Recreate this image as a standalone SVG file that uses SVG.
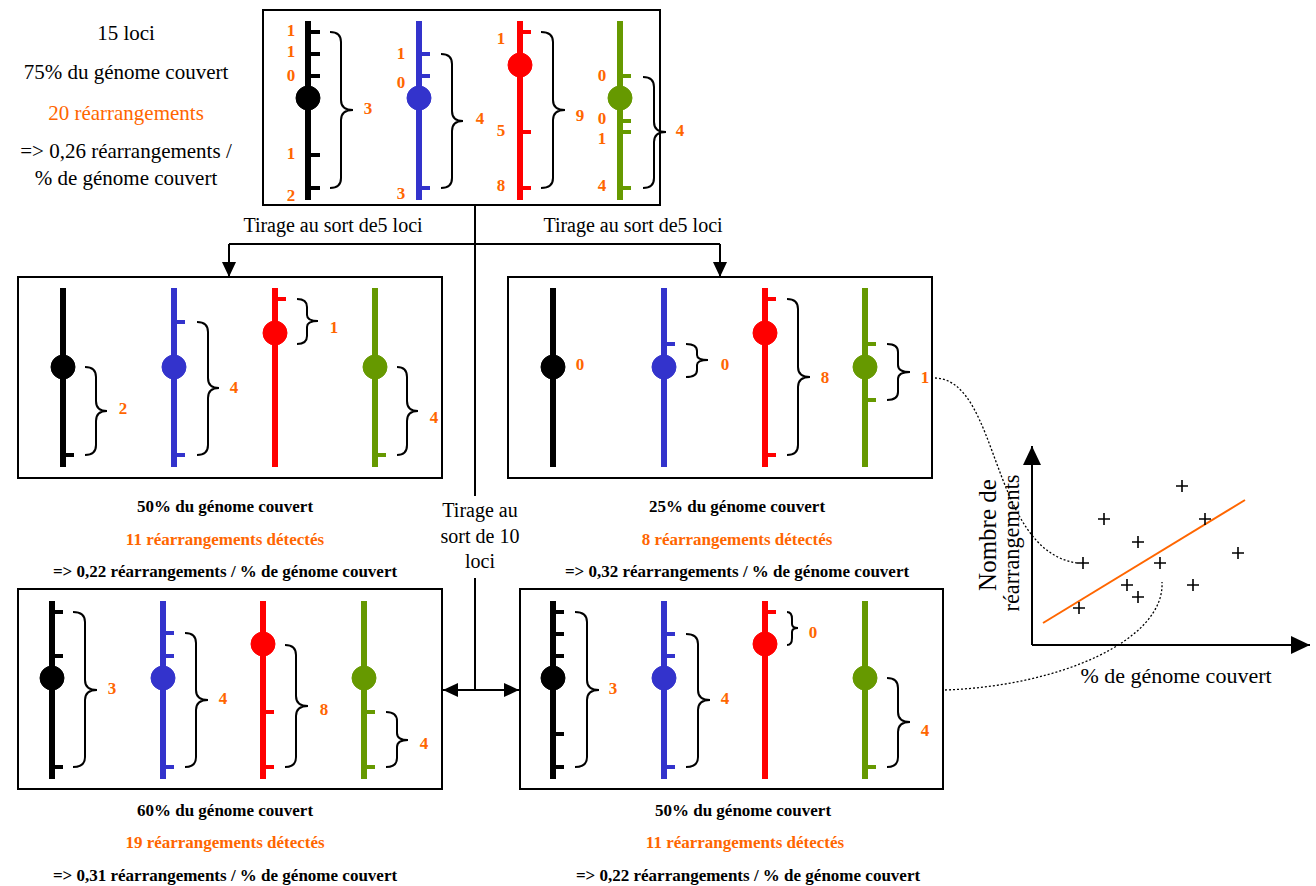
<svg xmlns="http://www.w3.org/2000/svg" width="1316" height="886" viewBox="0 0 1316 886">
<defs>
<style>
text{font-family:"Liberation Serif","Times New Roman",serif;}
.t{font-size:21px;fill:#000;text-anchor:middle;}
.cap{font-size:17px;font-weight:bold;fill:#000;text-anchor:middle;}
.capo{font-size:17px;font-weight:bold;fill:#FF6600;text-anchor:middle;}
.n{font-size:17px;font-weight:bold;fill:#FF6600;text-anchor:middle;}
.box{fill:#fff;stroke:#000;stroke-width:2;}
.br{fill:none;stroke:#000;stroke-width:2;}
.cK{stroke:#000;fill:#000;}
.cB{stroke:#3333CC;fill:#3333CC;}
.cR{stroke:#FF0000;fill:#FF0000;}
.cG{stroke:#669900;fill:#669900;}
.chr{stroke-width:6;}
.tk{stroke-width:4;}
.con{fill:none;stroke:#000;stroke-width:2;}
.dot{fill:none;stroke:#000;stroke-width:1.3;stroke-dasharray:2 2;}
.pl{stroke:#000;stroke-width:1.6;fill:none;}
</style>
<marker id="ah" markerUnits="userSpaceOnUse" markerWidth="16" markerHeight="14" refX="15" refY="7" orient="auto">
<path d="M0,0 L15,7 L0,14 z" fill="#000"/>
</marker>
<marker id="ahs" markerUnits="userSpaceOnUse" markerWidth="16" markerHeight="14" refX="15" refY="7" orient="auto-start-reverse">
<path d="M0,0 L15,7 L0,14 z" fill="#000"/>
</marker>
<marker id="ax" markerUnits="userSpaceOnUse" markerWidth="20" markerHeight="18" refX="19" refY="9" orient="auto">
<path d="M0,0 L19,9 L0,18 z" fill="#000"/>
</marker>
</defs>
<rect width="1316" height="886" fill="#fff"/>

<g id="summary">
<text class="t" x="126" y="40">15 loci</text>
<text class="t" x="126" y="79">75% du génome couvert</text>
<text class="t" x="126" y="120" fill="#FF6600" style="fill:#FF6600">20 réarrangements</text>
<text class="t" x="126" y="158">=&gt; 0,26 réarrangements /</text>
<text class="t" x="126" y="185">% de génome couvert</text>
</g>

<g id="connectors">
<path class="con" d="M475,205 V690"/>
<path class="con" d="M229,244 H720"/>
<path class="con" d="M229,244 V277" marker-end="url(#ah)"/>
<path class="con" d="M720,244 V277" marker-end="url(#ah)"/>
<path class="con" d="M443,690 H519" marker-start="url(#ahs)" marker-end="url(#ah)"/>
<text class="t" x="333" y="232" style="font-size:20px">Tirage au sort de5 loci</text>
<text class="t" x="633" y="232" style="font-size:20px">Tirage au sort de5 loci</text>
<rect x="436" y="496" width="90" height="82" fill="#fff"/>
<text class="t" x="480" y="517" style="font-size:20px">Tirage au</text>
<text class="t" x="480" y="543" style="font-size:20px">sort de 10</text>
<text class="t" x="480" y="568" style="font-size:20px">loci</text>
<path class="dot" d="M935,378 C1000,380 990,550 1077,563"/>
<path class="dot" d="M945,690 C1060,686 1165,640 1162,582"/>
</g>

<g id="box-top">
<rect class="box" x="263" y="10" width="397" height="195"/>
<g class="cK"><line class="chr" x1="308" y1="21" x2="308" y2="200"/><circle cx="308" cy="98" r="12"/>
<path class="tk" d="M308,32h12M308,54h12M308,76h12M308,155h12M308,188h12"/></g>
<g class="cB"><line class="chr" x1="419" y1="21" x2="419" y2="200"/><circle cx="419" cy="98" r="12"/>
<path class="tk" d="M419,54h11M419,76h11M419,188h11"/></g>
<g class="cR"><line class="chr" x1="520" y1="21" x2="520" y2="200"/><circle cx="520" cy="65" r="12"/>
<path class="tk" d="M520,32h11M520,132h11M520,188h11"/></g>
<g class="cG"><line class="chr" x1="620" y1="21" x2="620" y2="200"/><circle cx="620" cy="98" r="12"/>
<path class="tk" d="M620,76h11M620,121h11M620,132h11M620,188h11"/></g>
<path class="br" d="M330,32 Q341,32 341,42 L341,100 Q341,110 353,110 Q341,110 341,120 L341,178 Q341,188 330,188"/>
<path class="br" d="M441,54 Q452,54 452,64 L452,111 Q452,121 463,121 Q452,121 452,131 L452,178 Q452,188 441,188"/>
<path class="br" d="M541,32 Q553,32 553,42 L553,100 Q553,110 565,110 Q553,110 553,120 L553,178 Q553,188 541,188"/>
<path class="br" d="M643,77 Q654,77 654,87 L654,122 Q654,132 666,132 Q654,132 654,142 L654,178 Q654,188 643,188"/>
<text class="n" x="291" y="36">1</text><text class="n" x="291" y="57">1</text><text class="n" x="291" y="81">0</text><text class="n" x="291" y="159">1</text><text class="n" x="291" y="201">2</text>
<text class="n" x="401" y="59">1</text><text class="n" x="401" y="88">0</text><text class="n" x="401" y="199">3</text>
<text class="n" x="501" y="44">1</text><text class="n" x="501" y="136">5</text><text class="n" x="501" y="191">8</text>
<text class="n" x="602" y="81">0</text><text class="n" x="602" y="124">0</text><text class="n" x="602" y="144">1</text><text class="n" x="602" y="191">4</text>
<text class="n" x="368" y="114">3</text><text class="n" x="480" y="124">4</text><text class="n" x="580" y="121">9</text><text class="n" x="680" y="136">4</text>
</g>

<g id="box-mid-left">
<rect class="box" x="18" y="277" width="424" height="201"/>
<g class="cK"><line class="chr" x1="63" y1="288" x2="63" y2="467"/><circle cx="63" cy="367" r="12"/><path class="tk" d="M63,455h11"/></g>
<g class="cB"><line class="chr" x1="174" y1="288" x2="174" y2="467"/><circle cx="174" cy="367" r="12"/><path class="tk" d="M174,322h11M174,455h11"/></g>
<g class="cR"><line class="chr" x1="275" y1="288" x2="275" y2="467"/><circle cx="275" cy="333" r="12"/><path class="tk" d="M275,299h11"/></g>
<g class="cG"><line class="chr" x1="375" y1="288" x2="375" y2="467"/><circle cx="375" cy="367" r="12"/><path class="tk" d="M375,455h11"/></g>
<path class="br" d="M85,367 Q96,367 96,377 L96,401 Q96,411 107,411 Q96,411 96,421 L96,445 Q96,455 85,455"/>
<path class="br" d="M197,322 Q208,322 208,332 L208,378 Q208,388 219,388 Q208,388 208,398 L208,445 Q208,455 197,455"/>
<path class="br" d="M297,299 Q307,299 307,307 L307,315 Q307,321 318,321 Q307,321 307,327 L307,336 Q307,344 297,344"/>
<path class="br" d="M397,367 Q407,367 407,377 L407,401 Q407,411 418,411 Q407,411 407,421 L407,445 Q407,455 397,455"/>
<text class="n" x="123" y="414">2</text><text class="n" x="234" y="393">4</text><text class="n" x="334" y="333">1</text><text class="n" x="434" y="423">4</text>
<text class="cap" x="225" y="512">50% du génome couvert</text>
<text class="capo" x="225" y="545">11 réarrangements détectés</text>
<text class="cap" x="225" y="577">=&gt; 0,22 réarrangements / % de génome couvert</text>
</g>

<g id="box-mid-right">
<rect class="box" x="508" y="277" width="424" height="201"/>
<g class="cK"><line class="chr" x1="553" y1="288" x2="553" y2="467"/><circle cx="553" cy="367" r="12"/></g>
<g class="cB"><line class="chr" x1="664" y1="288" x2="664" y2="467"/><circle cx="664" cy="367" r="12"/><path class="tk" d="M664,344h11"/></g>
<g class="cR"><line class="chr" x1="765" y1="288" x2="765" y2="467"/><circle cx="765" cy="333" r="12"/><path class="tk" d="M765,299h11M765,455h11"/></g>
<g class="cG"><line class="chr" x1="865" y1="288" x2="865" y2="467"/><circle cx="865" cy="367" r="12"/><path class="tk" d="M865,344h11M865,400h11"/></g>
<path class="br" d="M686,344 Q697,344 697,351 L697,355 Q697,360 708,360 Q697,360 697,365 L697,370 Q697,377 686,377"/>
<path class="br" d="M787,299 Q798,299 798,309 L798,367 Q798,377 810,377 Q798,377 798,387 L798,445 Q798,455 787,455"/>
<path class="br" d="M887,344 Q898,344 898,352 L898,365 Q898,372 910,372 Q898,372 898,379 L898,392 Q898,400 887,400"/>
<text class="n" x="580" y="370">0</text><text class="n" x="725" y="370">0</text><text class="n" x="825" y="383">8</text><text class="n" x="925" y="383">1</text>
<text class="cap" x="737" y="512">25% du génome couvert</text>
<text class="capo" x="737" y="545">8 réarrangements détectés</text>
<text class="cap" x="737" y="577">=&gt; 0,32 réarrangements / % de génome couvert</text>
</g>

<g id="box-bot-left">
<rect class="box" x="18" y="589" width="424" height="200"/>
<g class="cK"><line class="chr" x1="52" y1="601" x2="52" y2="779"/><circle cx="52" cy="678" r="12"/><path class="tk" d="M52,612h11M52,656h11M52,767h11"/></g>
<g class="cB"><line class="chr" x1="163" y1="601" x2="163" y2="779"/><circle cx="163" cy="678" r="12"/><path class="tk" d="M163,633h11M163,656h11M163,767h11"/></g>
<g class="cR"><line class="chr" x1="263" y1="601" x2="263" y2="779"/><circle cx="263" cy="644" r="12"/><path class="tk" d="M263,712h11M263,767h11"/></g>
<g class="cG"><line class="chr" x1="364" y1="601" x2="364" y2="779"/><circle cx="364" cy="678" r="12"/><path class="tk" d="M364,712h11M364,767h11"/></g>
<path class="br" d="M73,612 Q85,612 85,622 L85,680 Q85,690 97,690 Q85,690 85,700 L85,757 Q85,767 73,767"/>
<path class="br" d="M185,633 Q196,633 196,643 L196,690 Q196,700 208,700 Q196,700 196,710 L196,757 Q196,767 185,767"/>
<path class="br" d="M285,645 Q296,645 296,655 L296,696 Q296,706 308,706 Q296,706 296,716 L296,757 Q296,767 285,767"/>
<path class="br" d="M386,712 Q397,712 397,721 L397,733 Q397,740 408,740 Q397,740 397,747 L397,758 Q397,767 386,767"/>
<text class="n" x="112" y="694">3</text><text class="n" x="223" y="704">4</text><text class="n" x="324" y="715">8</text><text class="n" x="424" y="749">4</text>
<text class="cap" x="225" y="816">60% du génome couvert</text>
<text class="capo" x="225" y="848">19 réarrangements détectés</text>
<text class="cap" x="225" y="881">=&gt; 0,31 réarrangements / % de génome couvert</text>
</g>

<g id="box-bot-right">
<rect class="box" x="520" y="589" width="423" height="200"/>
<g class="cK"><line class="chr" x1="553" y1="601" x2="553" y2="779"/><circle cx="553" cy="678" r="12"/><path class="tk" d="M553,612h11M553,634h11M553,656h11M553,734h11M553,767h11"/></g>
<g class="cB"><line class="chr" x1="664" y1="601" x2="664" y2="779"/><circle cx="664" cy="678" r="12"/><path class="tk" d="M664,634h11M664,656h11M664,767h11"/></g>
<g class="cR"><line class="chr" x1="765" y1="601" x2="765" y2="779"/><circle cx="765" cy="644" r="12"/><path class="tk" d="M765,612h11"/></g>
<g class="cG"><line class="chr" x1="865" y1="601" x2="865" y2="779"/><circle cx="865" cy="678" r="12"/><path class="tk" d="M865,767h11"/></g>
<path class="br" d="M575,612 Q587,612 587,622 L587,680 Q587,690 599,690 Q587,690 587,700 L587,757 Q587,767 575,767"/>
<path class="br" d="M686,634 Q698,634 698,644 L698,690 Q698,700 710,700 Q698,700 698,710 L698,757 Q698,767 686,767"/>
<path class="br" d="M787,612 Q792,612 792,619 L792,624 Q792,628 798,628 Q792,628 792,632 L792,638 Q792,645 787,645"/>
<path class="br" d="M887,678 Q898,678 898,688 L898,712 Q898,722 910,722 Q898,722 898,732 L898,757 Q898,767 887,767"/>
<text class="n" x="613" y="694">3</text><text class="n" x="725" y="704">4</text><text class="n" x="813" y="638">0</text><text class="n" x="925" y="736">4</text>
<text class="cap" x="743" y="816">50% du génome couvert</text>
<text class="capo" x="745" y="848">11 réarrangements détectés</text>
<text class="cap" x="748" y="881">=&gt; 0,22 réarrangements / % de génome couvert</text>
</g>

<g id="graph">
<path class="con" d="M1032,645 V446" marker-end="url(#ax)"/>
<path class="con" d="M1032,645 H1310" marker-end="url(#ax)"/>
<line x1="1043" y1="623" x2="1245" y2="500" stroke="#FF6600" stroke-width="2"/>
<path class="pl" d="M1098,519h12M1104,513v12 M1176,486h12M1182,480v12 M1199,519h12M1205,513v12 M1132,542h12M1138,536v12 M1077,563h12M1083,557v12 M1154,563h12M1160,557v12 M1232,553h12M1238,547v12 M1121,585h12M1127,579v12 M1187,585h12M1193,579v12 M1132,597h12M1138,591v12 M1073,608h12M1079,602v12"/>
<text class="t" x="996" y="535" transform="rotate(-90 996 535)" style="font-size:25px">Nombre de</text>
<text class="t" x="1019" y="543" transform="rotate(-90 1019 543)" style="font-size:23px" textLength="137" lengthAdjust="spacingAndGlyphs">réarrangements</text>
<text class="t" x="1176" y="683" style="font-size:22px">% de génome couvert</text>
</g>
</svg>
